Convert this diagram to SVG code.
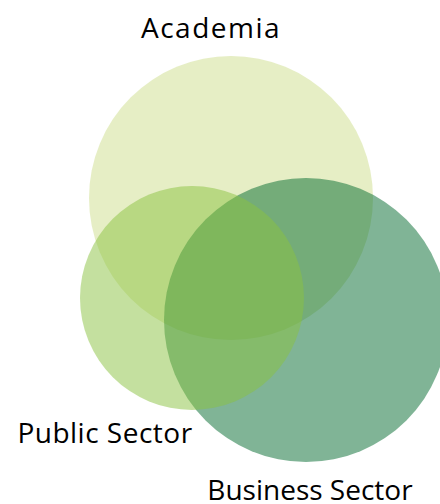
<svg xmlns="http://www.w3.org/2000/svg" width="440" height="504" viewBox="0 0 440 504">
  <style>
    .set { fill-opacity: 0.5; }
    .label { font-family: "Open Sans", "Liberation Sans", sans-serif; font-size: 28px; fill: #000; }
  </style>
  <rect width="440" height="504" fill="#fff"/>
  <g id="academia">
    <circle class="set" cx="231" cy="198" r="142" fill="#cddd8b"/>
    <text class="label" x="211" y="38" text-anchor="middle" letter-spacing="1.5">Academia</text>
  </g>
  <g id="business-sector">
    <circle class="set" cx="306" cy="320" r="142" fill="#01692d"/>
    <text class="label" x="310" y="500" text-anchor="middle">Business Sector</text>
  </g>
  <g id="public-sector">
    <circle class="set" cx="192" cy="298" r="112" fill="#89c13f"/>
    <text class="label" x="105" y="443" text-anchor="middle" letter-spacing="0.5">Public Sector</text>
  </g>
  <g id="connectors"/>
</svg>
